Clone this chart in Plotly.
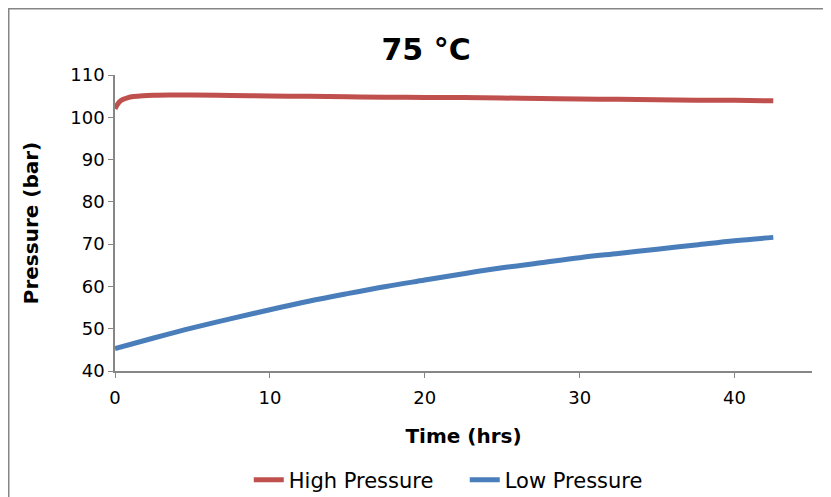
import plotly.graph_objects as go

time_hp = [0, 0.15, 0.3, 0.5, 0.8, 1.2, 1.8, 2.5, 3.5, 5, 7.5, 10, 12.5, 15, 17.5, 20, 22.5, 25, 27.5, 30, 32.5, 35, 37.5, 40, 42.5]
high_pressure = [102.0, 103.0, 103.7, 104.2, 104.6, 104.9, 105.1, 105.2, 105.25, 105.25, 105.15, 105.05, 104.95, 104.85, 104.75, 104.7, 104.65, 104.55, 104.45, 104.3, 104.25, 104.15, 104.05, 104.0, 103.9]

time_lp = [0, 2.5, 5, 7.5, 10, 12.5, 15, 17.5, 20, 22.5, 25, 27.5, 30, 32.5, 35, 37.5, 40, 42.5]
low_pressure = [45.3, 47.8, 50.2, 52.4, 54.5, 56.5, 58.3, 60.0, 61.5, 63.0, 64.4, 65.6, 66.8, 67.8, 68.8, 69.8, 70.8, 71.6]

x_ticks = [0, 10, 20, 30, 40]
y_ticks = [40, 50, 60, 70, 80, 90, 100, 110]

font_main = "DejaVu Sans"

fig = go.Figure()
fig.add_trace(go.Scatter(x=time_hp, y=high_pressure, mode="lines", name="High Pressure",
                         line=dict(color="#C0504D", width=5, shape="spline")))
fig.add_trace(go.Scatter(x=time_lp, y=low_pressure, mode="lines", name="Low Pressure",
                         line=dict(color="#4A7EBB", width=5, shape="spline")))

axis_common = dict(showgrid=False, zeroline=False, showline=True, linecolor="#868686", linewidth=1.5,
                   ticks="outside", ticklen=5, tickcolor="#868686", automargin=False,
                   tickfont=dict(family=font_main, size=18, color="black"))

# page body has an 8px margin, so the figure is sized/offset to compensate
L, T, PW, PH = 107, 67, 697, 296
fig.update_layout(
    width=823, height=489,
    margin=dict(l=L, r=823 - L - PW, t=T, b=489 - T - PH),
    paper_bgcolor="white", plot_bgcolor="white",
    title=dict(text="<b>75 °C</b>", x=0.508, xanchor="center", y=0.915, yanchor="middle",
               font=dict(family=font_main, size=30, color="black")),
    xaxis=dict(range=[0, 45], tickvals=x_ticks, ticklabelstandoff=5,
               title=dict(text="<b>Time (hrs)</b>", font=dict(family=font_main, size=20, color="black"), standoff=22),
               **axis_common),
    yaxis=dict(range=[40, 110], tickvals=y_ticks,
               title=dict(text="<b>Pressure (bar)</b>", font=dict(family=font_main, size=20, color="black"), standoff=26),
               **axis_common),
    legend=dict(orientation="h", x=0.555, xanchor="center", xref="container",
                y=1 - (480 - 8) / 489, yanchor="middle", yref="container",
                entrywidth=171, entrywidthmode="pixels",
                font=dict(family=font_main, size=21, color="black")),
    showlegend=True,
    shapes=[dict(type="rect", xref="paper", yref="paper",
                 x0=(0.75 - L) / PW, x1=(860 - L) / PW,
                 y0=-1.0, y1=1 + (T - 0.75) / PH,
                 line=dict(color="#868686", width=1.5), fillcolor="rgba(0,0,0,0)", layer="below")],
)

fig.write_html("out.html")
